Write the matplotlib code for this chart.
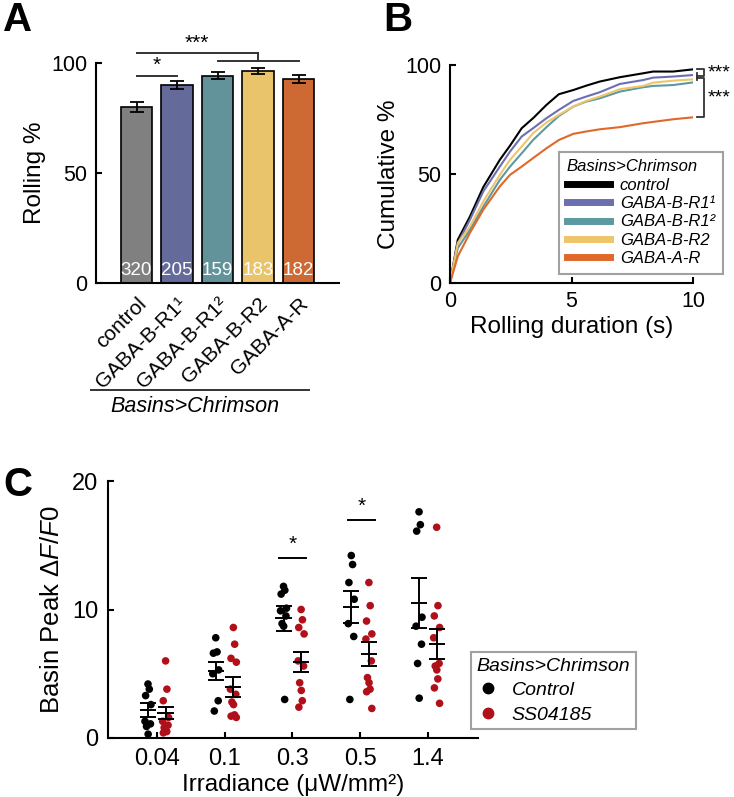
import numpy as np
import matplotlib
matplotlib.use("Agg")
import matplotlib.pyplot as plt
from matplotlib.lines import Line2D

plt.rcParams['font.family'] = ['Liberation Sans', 'DejaVu Sans']
plt.rcParams['mathtext.fontset'] = 'custom'
plt.rcParams['mathtext.rm'] = 'Liberation Sans'
plt.rcParams['mathtext.it'] = 'Liberation Sans:italic'
plt.rcParams['axes.linewidth'] = 1.5

# ---------------- Data ----------------
# Panel A
genotypes = ["control", "GABA-B-R1\u00b9", "GABA-B-R1\u00b2", "GABA-B-R2", "GABA-A-R"]
rolling_pct = [80.0, 90.0, 94.3, 96.4, 92.9]
rolling_err = [2.3, 2.0, 1.8, 1.5, 1.8]
n_larvae = [320, 205, 159, 183, 182]
bar_colors = ["#808080", "#646a9a", "#62939a", "#e9c46a", "#cd6a33"]

# Panel B
dur_s = [0, 0.32, 0.82, 1.37, 2.05, 2.47, 2.95, 3.42, 3.97, 4.48, 5.07, 5.6, 6.16, 6.99, 7.95, 8.36, 9.18, 10]
cum_control = [0, 19.8, 30.5, 44, 56.5, 63, 71, 75.6, 81.7, 86.6, 88.5, 90.5, 92.4, 94.4, 96.2, 97, 97, 98]
cum_r1a = [0, 18.3, 29, 42, 53.4, 60.3, 67.2, 71, 75.6, 79.4, 83.5, 85.5, 87.5, 91.3, 93.1, 94.2, 94.7, 95.4]
cum_r1b = [0, 16, 24.4, 35, 47.3, 53.4, 59.5, 65.6, 71.5, 76.6, 80.9, 83.2, 84.7, 87.8, 89.8, 90.4, 90.8, 92]
cum_r2 = [0, 18.3, 26, 37.4, 49.6, 56.5, 62.6, 68.7, 73.6, 77.1, 80.9, 83.5, 85.5, 88.9, 90.4, 91.9, 92.8, 93.4]
cum_ar = [0, 12.2, 23, 33.6, 44.3, 49.6, 53.4, 57.3, 61.8, 65.6, 68.4, 69.5, 70.5, 71.5, 73.3, 73.9, 75.1, 76]
line_colors = ["#000000", "#6b6fb0", "#5b9aa0", "#efc56a", "#e0692a"]
legend_b = ["control", "GABA-B-R1\u00b9", "GABA-B-R1\u00b2", "GABA-B-R2", "GABA-A-R"]

# Panel C
irradiance = ["0.04", "0.1", "0.3", "0.5", "1.4"]
ctrl_pts = [
    [4.2, 3.8, 3.3, 2.6, 1.3, 1.1, 0.9, 0.3],
    [7.8, 6.7, 6.6, 5.3, 5.0, 2.9, 2.1],
    [11.8, 11.5, 11.2, 10.1, 9.9, 9.5, 8.9, 8.7, 3.0],
    [14.2, 13.5, 12.1, 10.8, 8.9, 7.9, 3.0],
    [17.6, 16.6, 16.1, 9.4, 8.7, 7.3, 5.8, 3.1],
]
ss_pts = [
    [6.0, 3.8, 2.9, 1.6, 1.3, 1.0, 0.8, 0.6, 0.5, 0.4],
    [8.6, 7.3, 6.2, 5.9, 3.8, 3.4, 2.8, 2.6, 1.8, 1.7, 1.6],
    [10.0, 9.2, 8.6, 8.1, 6.0, 5.6, 4.3, 3.7, 2.9, 2.4],
    [12.1, 10.3, 9.1, 8.1, 7.7, 6.0, 4.7, 4.3, 3.8, 3.6, 2.3],
    [16.4, 10.3, 9.5, 8.6, 7.8, 5.8, 5.6, 5.3, 4.6, 3.9, 2.7],
]
ctrl_mean = [2.2, 5.2, 9.3, 10.2, 10.5]
ctrl_sem = [0.55, 0.7, 1.0, 1.25, 1.95]
ss_mean = [1.95, 4.0, 5.9, 6.55, 7.3]
ss_sem = [0.5, 0.78, 0.8, 0.95, 1.15]
red = "#b0101a"

fig = plt.figure(figsize=(7.34, 7.97), dpi=100)
W, H = 734, 797

def add_ax(l, r, t, b):
    return fig.add_axes([l / W, 1 - b / H, (r - l) / W, (b - t) / H])

def style(ax, ls=15.5):
    for s in ("top", "right"):
        ax.spines[s].set_visible(False)
    ax.tick_params(direction="in", length=4, width=1.5, labelsize=ls, pad=6)

# ---------------- Panel A ----------------
axA = add_ax(96, 339, 63, 283)
style(axA)
x = np.arange(len(genotypes))
axA.bar(x, rolling_pct, width=0.79, color=bar_colors, edgecolor="black", linewidth=1.2, zorder=2)
axA.errorbar(x, rolling_pct, yerr=rolling_err, fmt="none", ecolor="black", elinewidth=1.3, capsize=5, capthick=1.3, zorder=3)
for xi, n in zip(x, n_larvae):
    axA.text(xi, 5.5, str(n), color="white", ha="center", va="center", fontsize=13.5, zorder=4)
axA.set_xlim(-1.0, 5.0)
axA.set_ylim(0, 100)
axA.set_yticks([0, 50, 100])
axA.set_xticks(x)
axA.set_xticklabels(genotypes, rotation=45, ha="right", rotation_mode="anchor", fontsize=15)
axA.tick_params(axis="x", length=0, pad=8)
axA.set_ylabel("Rolling %", fontsize=17.5, labelpad=4)
sig = dict(color="#333333", lw=1.4, clip_on=False)
axA.plot([0, 1], [94, 94], **sig)
axA.text(0.5, 94.5, "*", ha="center", va="bottom", fontsize=15)
axA.plot([0, 3], [104.5, 104.5], **sig)
axA.plot([3, 3], [104.5, 101], **sig)
axA.plot([2, 4], [101, 101], **sig)
axA.text(1.5, 104.8, "***", ha="center", va="bottom", fontsize=15)
axA.plot([-0.02, 0.877], [-0.486, -0.486], transform=axA.transAxes, color="#333333", lw=1.4, clip_on=False)
axA.text(0.407, -0.56, "Basins>Chrimson", transform=axA.transAxes, ha="center", va="center",
         fontsize=15.5, style="italic")

# ---------------- Panel B ----------------
axB = add_ax(450, 693, 65, 283)
style(axB)
curves = [cum_control, cum_r1a, cum_r1b, cum_r2, cum_ar]
for yv, c in zip(curves, line_colors):
    axB.plot(dur_s, yv, color=c, lw=1.5)
axB.set_xlim(0, 10)
axB.set_ylim(0, 100)
axB.set_xticks([0, 5, 10])
axB.set_yticks([0, 50, 100])
axB.set_xlabel("Rolling duration (s)", fontsize=17.5, labelpad=3)
axB.set_ylabel("Cumulative %", fontsize=17.5, labelpad=4)
bk = dict(color="#333333", lw=1.3, clip_on=False)
axB.plot([10.15, 10.45, 10.45, 10.15], [98, 98, 94.8, 94.8], **bk)
axB.plot([10.15, 10.15], [96.5, 93.0], **bk)
axB.plot([10.15, 10.45, 10.45, 10.15], [94.2, 94.2, 76, 76], **bk)
axB.text(10.6, 96.3, "***", ha="left", va="center", fontsize=14)
axB.text(10.6, 85.0, "***", ha="left", va="center", fontsize=14)
handles = [Line2D([], [], color=c, lw=5) for c in line_colors]
legB = axB.legend(handles, legend_b, loc="upper left", bbox_to_anchor=(0.449, 0.601),
                  borderaxespad=0, frameon=True, fancybox=False, edgecolor="#8a8a8a",
                  prop={"style": "italic", "size": 12}, title="Basins>Chrimson",
                  title_fontproperties={"style": "italic", "size": 12},
                  handlelength=2.6, handletextpad=0.6, labelspacing=0.2, borderpad=0.45)
legB.get_frame().set_linewidth(1.5)
legB._legend_box.align = "left"

# ---------------- Panel C ----------------
axC = add_ax(108, 478, 481, 738)
style(axC, 17)
axC.tick_params(pad=7)
pos = np.arange(1, len(irradiance) + 1)
off = 0.13
for i, p in enumerate(pos):
    for pts, col, sgn in ((ctrl_pts[i], "black", -1), (ss_pts[i], red, 1)):
        n = len(pts)
        jit = 0.045 * np.sin(np.arange(n) * 2.7)
        axC.scatter(p + sgn * off + jit, pts, s=30, color=col, edgecolors="none", zorder=2)
for means, sems, sgn in ((ctrl_mean, ctrl_sem, -1), (ss_mean, ss_sem, 1)):
    xc = pos + sgn * off
    axC.errorbar(xc, means, yerr=sems, fmt="none", ecolor="black", elinewidth=1.4,
                 capsize=6, capthick=1.4, zorder=3)
    axC.hlines(means, xc - 0.12, xc + 0.12, color="black", lw=1.4, zorder=3)
axC.set_xlim(0.28, 5.74)
axC.set_ylim(0, 20)
axC.set_xticks(pos)
axC.set_xticklabels(irradiance)
axC.set_yticks([0, 10, 20])
axC.set_xlabel("Irradiance (\u03bcW/mm\u00b2)", fontsize=17.5, labelpad=3)
axC.set_ylabel("Basin Peak $\\mathit{\\Delta F/F0}$", fontsize=18.5, labelpad=6)
sc = dict(color="black", lw=1.4)
axC.plot([2.8, 3.2], [14.0, 14.0], **sc)
axC.text(3.0, 14.3, "*", ha="center", va="bottom", fontsize=15)
axC.plot([3.82, 4.22], [17.0, 17.0], **sc)
axC.text(4.02, 17.3, "*", ha="center", va="bottom", fontsize=15)
hC = [Line2D([], [], marker="o", ls="none", color="black", markersize=7.5),
      Line2D([], [], marker="o", ls="none", color=red, markersize=7.5)]
legC = axC.legend(hC, ["Control", "SS04185"], loc="upper left", bbox_to_anchor=(0.981, 0.335),
                  borderaxespad=0, frameon=True, fancybox=False, edgecolor="#8a8a8a",
                  prop={"style": "italic", "size": 14}, title="Basins>Chrimson",
                  title_fontproperties={"style": "italic", "size": 14},
                  handlelength=1.2, handletextpad=0.6, labelspacing=0.35, borderpad=0.3)
legC.get_frame().set_linewidth(1.5)
legC._legend_box.align = "left"

# Panel letters
fig.text(3 / W, 1 - 1 / H, "A", fontsize=29, weight="bold", va="top", ha="left")
fig.text(383 / W, 1 - 1 / H, "B", fontsize=29, weight="bold", va="top", ha="left")
fig.text(3 / W, 1 - 466 / H, "C", fontsize=29, weight="bold", va="top", ha="left")

fig.savefig("out.png", dpi=100)
